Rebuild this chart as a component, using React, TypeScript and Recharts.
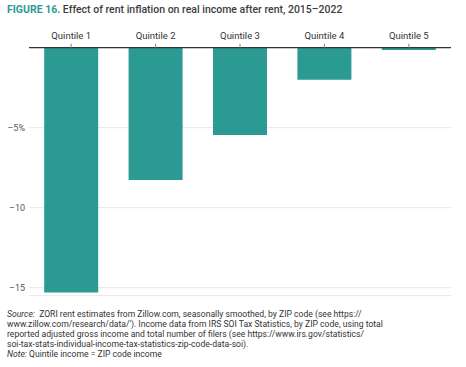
import { Bar, BarChart, CartesianGrid, XAxis, YAxis } from "recharts";

const quintiles = ["Quintile 1", "Quintile 2", "Quintile 3", "Quintile 4", "Quintile 5"];
const effect = [-15.3, -8.27, -5.45, -2.0, -0.15];
const yTicks = [-15, -10, -5];
const yTickLabels = ["–15", "–10", "–5%"];

const data = quintiles.map((name, i) => ({ name, effect: effect[i] }));

const TEAL = "#2a9a93";
const FONT = "Roboto, 'Noto Sans', sans-serif";

export default function App() {
  return (
    <div style={{ position: "absolute", left: 0, top: 0, width: 466, height: 367, background: "#fff", fontFamily: FONT }}>
      <div style={{ position: "absolute", left: 7, top: 3, fontSize: 10.5, fontWeight: 500, color: "#3d3d3d", whiteSpace: "nowrap" }}>
        <span style={{ color: TEAL, fontWeight: 700 }}>FIGURE 16.</span> Effect of rent inflation on real income after rent, 2015–2022
      </div>
      <BarChart
        width={466}
        height={300}
        data={data}
        margin={{ top: 17.7, right: 15, bottom: 4.3, left: 0 }}
        barCategoryGap="18%"
      >
        <CartesianGrid horizontal vertical={false} stroke="#e6e6e6" />
        <XAxis
          dataKey="name"
          orientation="top"
          height={30}
          axisLine={{ stroke: "#333", strokeWidth: 1.2 }}
          tickLine={{ stroke: "#888" }}
          tickSize={4}
          tickMargin={5}
          tick={{ fill: "#333", fontSize: 9.5, fontFamily: FONT }}
        />
        <YAxis
          domain={[-15.5, 0]}
          ticks={yTicks}
          width={29}
          axisLine={false}
          tickLine={false}
          tickSize={0}
          tickMargin={4}
          tickFormatter={(v) => yTickLabels[yTicks.indexOf(v)] ?? String(v)}
          tick={{ fill: "#555", fontSize: 9, fontFamily: FONT }}
        />
        <Bar dataKey="effect" fill={TEAL} isAnimationActive={false} />
      </BarChart>
      <div style={{ position: "absolute", left: 7, top: 309, fontSize: 8.6, lineHeight: "10px", color: "#333", whiteSpace: "nowrap" }}>
        <i>Source:</i>&nbsp; ZORI rent estimates from Zillow.com, seasonally smoothed, by ZIP code (see https://
        <br />
        www.zillow.com/research/data/'). Income data from IRS SOI Tax Statistics, by ZIP code, using total
        <br />
        reported adjusted gross income and total number of filers (see https://www.irs.gov/statistics/
        <br />
        soi-tax-stats-individual-income-tax-statistics-zip-code-data-soi).
        <br />
        <i>Note:</i> Quintile income = ZIP code income
      </div>
    </div>
  );
}
